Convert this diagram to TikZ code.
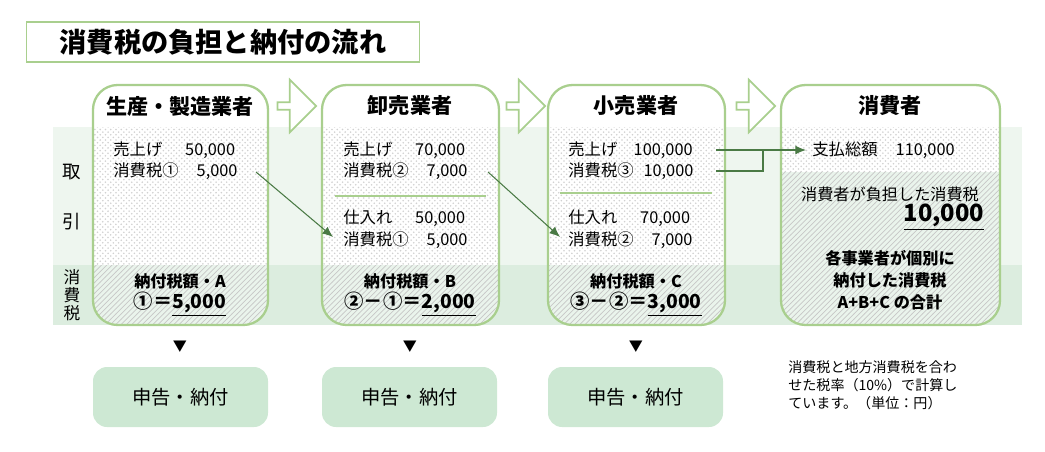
\documentclass[tikz,border=0pt]{standalone}
\usepackage{fontspec}
\setmainfont{Noto Sans CJK JP}
\usetikzlibrary{patterns,shapes.arrows,arrows.meta}
\definecolor{gb}{HTML}{A9CF8E}
\definecolor{band1}{HTML}{EEF6EF}
\definecolor{band2}{HTML}{DCEDDF}
\definecolor{fbox}{HTML}{CDE8D3}
\definecolor{arr}{HTML}{4A7A45}
\tikzset{
 hdr/.style={font=\fontsize{12}{12}\selectfont\bfseries},
 txt/.style={font=\fontsize{9.3}{10}\selectfont, anchor=west, inner sep=0},
 ctr/.style={font=\fontsize{9.2}{10}\selectfont, inner sep=0},
 big/.style={font=\fontsize{11}{12}\selectfont\bfseries, inner sep=0},
 fl/.style={-{Latex[length=6pt,width=5pt]}, arr, line width=0.6pt},
 hollow/.style={single arrow, draw=gb, fill=white, line width=1pt, minimum width=30pt, single arrow head extend=3pt, minimum height=22pt, inner sep=0},
 sbox/.style={rounded corners=8pt, fill=fbox},
}
\begin{document}
\begin{tikzpicture}[x=0.02cm,y=-0.02cm]
\useasboundingbox (0,0) rectangle (1045,451);
% title
\node[draw=gb, line width=1pt, minimum width=393*0.02cm, minimum height=40*0.02cm, font=\fontsize{15.5}{16}\selectfont\bfseries] (title) at (223,42) {消費税の負担と納付の流れ};
% bands
\fill[band1] (53,127) rectangle (1022,265);
\fill[band2] (53,265) rectangle (1022,325);
\node[font=\fontsize{10.5}{12}\selectfont] (l1) at (72,172) {取};
\node[font=\fontsize{10.5}{12}\selectfont] (l2) at (72,222) {引};
\node[font=\fontsize{9.5}{10.3}\selectfont, align=center, inner sep=0] (l3) at (72,295) {消\\費\\税};
% boxes
\foreach \xa/\xb/\mid in {93/268/265,322/499/265,548/725/265,781/1000/172}{
 \begin{scope}
 \clip[rounded corners=14pt] (\xa,85) rectangle (\xb,325);
 \fill[white] (\xa,85) rectangle (\xb,325);
 \fill[pattern=crosshatch dots, pattern color=black!18] (\xa,127) rectangle (\xb,\mid);
 \fill[band2!60!white] (\xa,\mid) rectangle (\xb,325);
 \fill[pattern=north east lines, pattern color=black!22] (\xa,\mid) rectangle (\xb,325);
 \end{scope}
 \draw[gb, line width=1.3pt, rounded corners=14pt] (\xa,85) rectangle (\xb,325);
}
\node[hdr] (h1) at (180,106) {生産・製造業者};
\node[hdr] (h2) at (410,106) {卸売業者};
\node[hdr] (h3) at (636,106) {小売業者};
\node[hdr] (h4) at (890,106) {消費者};
\node[hollow] (a1) at (295,106) {};
\node[hollow] (a2) at (524,106) {};
\node[hollow] (a3) at (754,106) {};
% box1
\node[txt] (b1a) at (113,150) {売上げ\hspace{1.4em}50,000};
\node[txt] (b1b) at (113,171) {消費税①\hspace{1.1em}5,000};
% box2
\node[txt] (b2a) at (343,150) {売上げ\hspace{1.4em}70,000};
\node[txt] (b2b) at (343,171) {消費税②\hspace{1.1em}7,000};
\draw[gb, line width=0.8pt] (335,196) -- (486,196);
\node[txt] (b2c) at (343,218) {仕入れ\hspace{1.4em}50,000};
\node[txt] (b2d) at (343,240) {消費税①\hspace{1.1em}5,000};
% box3
\node[txt] (b3a) at (568,150) {売上げ\hspace{1.0em}100,000};
\node[txt] (b3b) at (568,171) {消費税③\hspace{0.6em}10,000};
\draw[gb, line width=0.8pt] (560,193) -- (712,193);
\node[txt] (b3c) at (568,218) {仕入れ\hspace{1.4em}70,000};
\node[txt] (b3d) at (568,240) {消費税②\hspace{1.1em}7,000};
% box4
\node[txt] (b4a) at (812,150) {支払総額\hspace{1.1em}110,000};
\node[ctr] (b4b) at (890,194) {消費者が負担した消費税};
\node[big, font=\fontsize{13.5}{14}\selectfont\bfseries] (b4c) at (944,217) {\underline{10,000}};
\node[ctr, align=center, font=\fontsize{9.2}{12.5}\selectfont\bfseries] (b4d) at (890,280) {各事業者が個別に\\納付した消費税\\A+B+C の合計};
% tax rows
\node[ctr,font=\fontsize{9.2}{10}\selectfont\bfseries] (t1) at (180,281) {納付税額・A};
\node[big] (t1b) at (180,304) {①＝\underline{5,000}};
\node[ctr,font=\fontsize{9.2}{10}\selectfont\bfseries] (t2) at (410,281) {納付税額・B};
\node[big] (t2b) at (410,304) {②－①＝\underline{2,000}};
\node[ctr,font=\fontsize{9.2}{10}\selectfont\bfseries] (t3) at (636,281) {納付税額・C};
\node[big] (t3b) at (636,304) {③－②＝\underline{3,000}};
% connectors
\coordinate (s1) at (256,172);
\coordinate (e1) at (333,237);
\draw[fl] (s1) -- (e1);
\coordinate (s2) at (488,172);
\coordinate (e2) at (560,237);
\draw[fl] (s2) -- (e2);
\coordinate (s3) at (716,150);
\coordinate (e3) at (806,150);
\draw[fl] (s3) -- (e3);
\coordinate (s4) at (716,171);
\coordinate (m4) at (763,171);
\draw[arr, line width=0.6pt] (s4) -- (m4) -- (763,150);
% down triangles
\foreach \x/\n in {180/d1,410/d2,636/d3}{
 \node[font=\fontsize{8}{9}\selectfont] (\n) at (\x,347) {▼};
}
% bottom boxes
\foreach \xa/\xb/\n in {93/268/f1,322/497/f2,548/723/f3}{
 \fill[sbox] (\xa,367) rectangle (\xb,427);
 \node[font=\fontsize{11}{12}\selectfont] (\n) at ({(\xa+\xb)/2},397) {申告・納付};
}
\node[align=left, anchor=north west, inner sep=0, font=\fontsize{8}{10.2}\selectfont] (note) at (788,360) {消費税と地方消費税を合わ\\せた税率（10\%）で計算し\\ています。（単位：円）};
\end{tikzpicture}
\end{document}
